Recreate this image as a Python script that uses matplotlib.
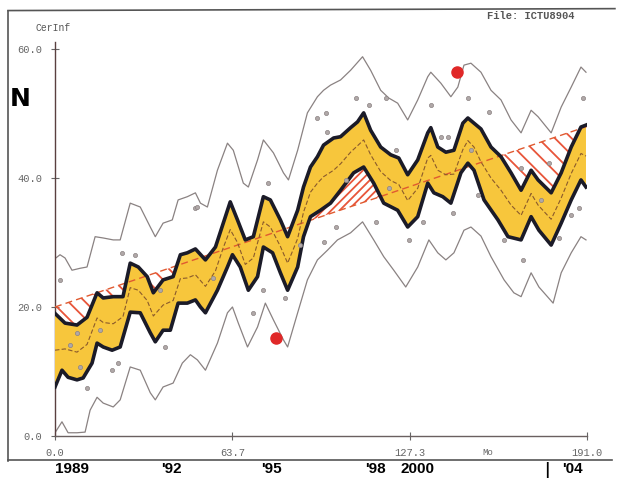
import numpy as np
import matplotlib.pyplot as plt
from matplotlib.lines import Line2D

plt.rcParams['hatch.linewidth'] = 1.3

# band upper edge (thick black)
hi_t = [0, 3.6, 7.9, 11.5, 15.1, 17.3, 20.9, 24.4, 27.0, 29.9, 33.1, 35.3, 38.8, 42.4, 45.0, 47.5,
        50.4, 54.0, 57.6, 60.4, 62.9, 65.5, 68.3, 71.2, 74.8, 77.3, 80.9, 83.5, 87.1, 89.2, 91.7,
        94.2, 96.4, 100.0, 102.5, 106.1, 108.6, 110.8, 113.3, 116.9, 120.5, 123.4, 126.6, 130.2,
        133.8, 134.9, 137.4, 140.3, 143.2, 146.4, 148.2, 150.4, 152.9, 156.5, 160.1, 163.7, 167.3,
        170.9, 173.4, 178.1, 181.7, 185.3, 188.8, 190.6]
hi_v = [19.0, 17.5, 17.2, 18.4, 22.2, 21.4, 21.6, 21.6, 26.8, 26.2, 24.7, 22.2, 24.2, 24.7, 28.1, 28.4,
        29.0, 27.3, 29.3, 33.0, 36.3, 33.5, 30.4, 30.9, 37.1, 36.6, 33.5, 30.9, 35.0, 38.6, 41.7,
        43.3, 45.1, 46.2, 46.4, 47.8, 48.7, 50.1, 47.4, 44.8, 43.6, 43.1, 40.5, 42.8,
        47.0, 47.8, 44.8, 44.0, 44.3, 48.5, 49.3, 48.5, 47.6, 44.8, 43.3, 40.8, 38.1,
        41.2, 39.7, 37.7, 40.8, 44.8, 47.9, 48.2]

# band lower edge (thick black)
lo_t = [0, 2.5, 4.7, 7.9, 10.1, 13.3, 15.1, 17.3, 20.5, 23.4, 27.0, 30.6, 34.2, 36.0, 38.8, 41.4,
        44.2, 47.5, 50.4, 52.2, 54.0, 58.3, 61.9, 63.7, 66.5, 69.4, 72.7, 74.8, 78.1, 80.9, 83.5,
        87.1, 89.2, 91.7, 95.3, 98.9, 102.5, 107.2, 110.8, 114.4, 118.0, 123.0, 126.6, 130.2,
        133.8, 136.0, 139.2, 142.1, 145.7, 148.2, 150.4, 154.0, 159.0, 162.6, 167.3, 170.9,
        173.7, 178.1, 181.7, 185.3, 188.8, 190.6]
lo_v = [7.6, 10.2, 9.1, 8.7, 9.0, 11.3, 14.4, 13.8, 13.3, 13.8, 19.2, 19.1, 16.0, 14.6, 16.4, 16.4,
        20.6, 20.6, 21.1, 20.0, 19.1, 22.6, 26.2, 28.1, 26.2, 22.6, 24.7, 29.3, 28.4, 25.3, 22.6,
        26.2, 30.9, 34.0, 35.0, 36.1, 38.1, 40.8, 41.7, 39.2, 36.1, 35.0, 32.4, 34.0,
        39.2, 37.7, 37.1, 36.1, 40.8, 42.3, 41.2, 36.6, 33.5, 30.9, 30.4, 34.0,
        31.9, 29.6, 33.0, 36.6, 39.7, 38.6]

# centre estimate (dashed)
mid_v = [13.3, 13.5, 13.0, 14.2, 18.3, 17.6, 17.4, 18.5, 23.0, 22.6, 21.0, 18.6, 20.3, 21.0, 24.4, 24.5,
         25.0, 23.2, 25.6, 29.2, 32.0, 30.0, 26.6, 27.6, 33.2, 32.4, 29.4, 26.8, 30.6, 34.7, 37.8,
         39.2, 40.2, 41.2, 42.2, 44.0, 45.0, 45.9, 43.6, 41.0, 39.6, 39.0, 36.5, 38.4,
         43.1, 43.5, 41.2, 40.5, 40.6, 44.4, 45.8, 44.8, 42.5, 40.0, 38.1, 35.8, 34.2,
         37.6, 35.8, 33.6, 36.9, 40.7, 43.8, 43.4]

# outer limits (thin grey)
ohi_t = [0, 1.8, 3.6, 6.1, 9.0, 11.5, 14.4, 17.3, 20.9, 23.4, 27.0, 30.6, 34.2, 36.0, 38.8, 42.1,
         44.2, 47.5, 50.4, 52.2, 54.7, 58.3, 61.9, 64.0, 67.6, 69.4, 72.7, 74.8, 78.4, 82.0, 83.8,
         87.1, 90.6, 94.2, 96.4, 98.9, 102.5, 106.1, 110.4, 113.3, 116.9, 119.8, 123.0, 126.6,
         130.2, 133.8, 134.9, 138.5, 142.1, 144.6, 146.8, 149.3, 152.9, 156.5, 160.1, 163.7,
         167.3, 170.9, 173.4, 178.1, 181.7, 185.3, 188.8, 190.6]
ohi_v = [27.5, 28.1, 27.6, 25.7, 26.0, 26.2, 30.9, 30.7, 30.4, 30.4, 36.1, 35.5, 32.4, 30.9, 33.0, 33.5,
         36.6, 37.1, 37.7, 36.1, 35.5, 41.2, 45.4, 44.3, 39.2, 38.6, 42.8, 45.9, 43.9, 40.8, 39.7,
         44.3, 50.1, 52.6, 53.6, 54.4, 55.2, 56.7, 58.8, 56.7, 53.6, 52.4, 51.6, 49.0,
         52.1, 55.7, 56.4, 54.7, 52.6, 54.1, 57.5, 57.8, 56.4, 53.6, 52.1, 49.0,
         47.0, 50.5, 49.5, 47.0, 51.0, 54.1, 57.2, 56.4]
olo_t = [0, 2.5, 4.7, 7.9, 10.8, 12.6, 15.1, 17.3, 20.9, 23.4, 27.0, 30.6, 34.2, 36.0, 38.8, 42.4,
         45.7, 48.6, 51.1, 54.0, 58.3, 61.9, 63.7, 65.8, 69.1, 72.7, 75.5, 78.4, 82.0, 83.5,
         87.1, 90.6, 94.2, 97.8, 101.4, 106.1, 110.4, 114.4, 118.0, 121.6, 125.9, 130.2,
         134.2, 137.4, 140.3, 143.2, 146.8, 149.3, 152.9, 156.5, 161.2, 164.7, 167.3, 170.9,
         173.7, 178.8, 181.7, 185.3, 188.8, 190.6]
olo_v = [0.5, 2.2, 0.5, 0.5, 0.6, 4.0, 6.0, 5.1, 4.5, 5.6, 10.7, 10.2, 6.7, 5.6, 7.6, 8.2,
         11.3, 12.6, 11.8, 10.2, 14.4, 19.1, 20.0, 17.5, 13.8, 16.9, 20.6, 18.0, 14.9, 13.8,
         19.1, 24.2, 27.3, 28.8, 30.4, 31.5, 33.2, 30.4, 27.8, 25.7, 23.1, 26.2,
         30.4, 28.4, 27.3, 28.4, 31.9, 32.4, 31.0, 27.8, 24.2, 22.2, 21.6, 25.3,
         23.1, 20.6, 25.3, 28.4, 30.9, 30.4]

# linear trend end points
trend_t = [0, 191]
trend_v = [20.0, 48.0]

# observations
obs_t = [1.8, 24.1, 28.8, 50.4, 39.6, 20.5, 22.7, 11.5, 9.0, 7.9, 94.2, 97.1, 97.8, 76.3, 51.1,
         70.9, 74.5, 82.7, 96.4, 100.7, 107.9, 112.6, 118.7, 134.9, 148.2, 122.3, 138.5, 141.0,
         115.1, 127.0, 132.0, 142.8, 151.8, 155.8, 189.6, 167.3, 177.3, 185.3, 188.1, 161.2,
         168.0, 180.9, 5.4, 16.2, 37.8, 56.8, 88.1, 104.3, 119.8, 149.3, 174.5]
obs_v = [24.2, 28.4, 28.1, 35.3, 13.8, 10.2, 11.3, 7.4, 10.7, 16.0, 49.3, 50.1, 47.1, 39.2, 35.5,
         19.1, 22.6, 21.4, 30.1, 32.4, 52.4, 51.3, 52.4, 51.3, 52.4, 44.3, 46.4, 46.4,
         33.2, 30.4, 33.2, 34.6, 37.4, 50.2, 52.4, 41.6, 42.3, 34.3, 35.3, 30.4,
         27.3, 30.7, 14.1, 16.4, 22.6, 24.5, 29.6, 39.7, 38.4, 44.3, 36.6]

# flagged outliers
out_t = [79.5, 144.2]
out_v = [15.2, 56.4]

years = ["1989", "'92", "'95", "'98", "2000", "'04"]
year_x = [0.1165, 0.278, 0.440, 0.608, 0.676, 0.927]

xticks = [0, 63.7, 127.3, 191.0]
yticks = [0, 20, 40, 60]

mono = 'Liberation Mono'
fig = plt.figure(figsize=(6.18, 4.8), dpi=100)
ax = fig.add_axes([0.089, 0.0917, 0.861, 0.821])

ax.plot(ohi_t, ohi_v, color='#8a8282', lw=0.9, zorder=2)
ax.plot(olo_t, olo_v, color='#8a8282', lw=0.9, zorder=2)

# yellow band
poly_t = np.concatenate([hi_t, lo_t[::-1]])
poly_v = np.concatenate([hi_v, lo_v[::-1]])
ax.fill(poly_t, poly_v, color='#f7c63c', lw=0, zorder=3)

# trend and hatched gaps
tr_hi = np.interp(hi_t, trend_t, trend_v)
tr_lo = np.interp(lo_t, trend_t, trend_v)
hv = np.array(hi_v)
lv = np.array(lo_v)
ax.fill_between(hi_t, hv, tr_hi, where=tr_hi > hv, interpolate=True,
                facecolor='none', edgecolor='#e8553a', hatch='\\\\', lw=0, zorder=3)
ax.fill_between(lo_t, tr_lo, lv, where=tr_lo < lv, interpolate=True,
                facecolor='none', edgecolor='#e8553a', hatch='////', lw=0, zorder=3)
ax.plot(trend_t, trend_v, color='#e05a30', lw=1.0, ls=(0, (5, 3)), zorder=4)

ax.plot(hi_t, mid_v, color='#8b5a2b', lw=0.8, ls=(0, (4, 2)), zorder=4)

ax.plot(hi_t, hi_v, color='#1b1b28', lw=2.6, zorder=5, solid_joinstyle='round')
ax.plot(lo_t, lo_v, color='#1b1b28', lw=2.6, zorder=5, solid_joinstyle='round')

ax.plot(obs_t, obs_v, 'o', ms=3, mfc='#b0a8a8', mec='#8a8282', mew=0.5, zorder=6)
ax.plot(out_t, out_v, 'o', ms=8, color='#e02828', zorder=7)

ax.set_xlim(0, 191)
ax.set_ylim(0, 61.1)
for s in ['top', 'right']:
    ax.spines[s].set_visible(False)
ax.spines['left'].set_color('#5a4040')
ax.spines['bottom'].set_color('#6a6060')
ax.spines['left'].set_linewidth(1.0)
ax.spines['bottom'].set_linewidth(1.0)

ax.set_xticks(xticks)
ax.set_xticklabels(['%.1f' % v for v in xticks], fontfamily=mono, fontsize=7.5, color='#666')
ax.set_yticks(yticks)
ax.set_yticklabels(['%.1f' % v for v in yticks], fontfamily=mono, fontsize=7.5, color='#666')
ax.tick_params(direction='inout', length=6, width=0.8, colors='#666', pad=6)

# frame and annotations
fig.add_artist(Line2D([0.013, 0.995], [0.978, 0.982], color='#555', lw=1.2))
fig.add_artist(Line2D([0.013, 0.013], [0.04, 0.978], color='#555', lw=1.2))
fig.add_artist(Line2D([0.013, 0.99], [0.042, 0.042], color='#555', lw=1.2))

fig.text(0.057, 0.942, 'CerInf', fontfamily=mono, fontsize=7, color='#555', va='center')
fig.text(0.032, 0.794, 'N', fontsize=18, fontweight='bold', ha='center', va='center')
fig.text(0.788, 0.967, 'File: ICTU8904', fontfamily=mono, fontsize=7.5, fontweight='bold',
         color='#555', va='center')
fig.text(0.79, 0.058, 'Mo', fontfamily=mono, fontsize=6.5, color='#666', ha='center', va='center')
for lab, xf in zip(years, year_x):
    fig.text(xf, 0.022, lab, fontsize=11, fontweight='bold', ha='center', va='center',
             fontfamily='Liberation Sans')
fig.text(0.885, 0.02, '|', fontsize=11, fontweight='bold', ha='center', va='center')

fig.savefig('out.png', dpi=100)
